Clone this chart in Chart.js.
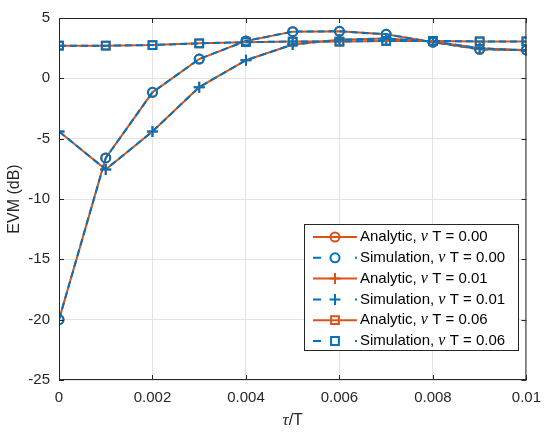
<!DOCTYPE html>
<html>
<head>
<meta charset="utf-8">
<script src="https://cdn.jsdelivr.net/npm/chart.js@4"></script>
<style>
  html, body { margin: 0; padding: 0; background: #fff; }
  #wrap { width: 550px; height: 436px; }
</style>
</head>
<body>
<div id="wrap"><canvas id="evmChart" width="550" height="436"></canvas></div>
<script>
// tau/T values
const tauT = [0, 0.001, 0.002, 0.003, 0.004, 0.005, 0.006, 0.007, 0.008, 0.009, 0.01];

// EVM (dB)
const analytic000 = [-20, -6.6, -1.16, 1.6, 3.1, 3.87, 3.9, 3.65, 3.0, 2.4, 2.35];
const simulation000 = [-20, -6.6, -1.16, 1.6, 3.1, 3.87, 3.9, 3.65, 3.0, 2.4, 2.35];
const analytic001 = [-4.4, -7.55, -4.4, -0.73, 1.5, 2.8, 3.2, 3.3, 3.05, 2.5, 2.3];
const simulation001 = [-4.4, -7.55, -4.4, -0.73, 1.5, 2.8, 3.2, 3.3, 3.05, 2.5, 2.3];
const analytic006 = [2.71, 2.71, 2.76, 2.9, 3.0, 3.05, 3.05, 3.1, 3.1, 3.06, 3.06];
const simulation006 = [2.71, 2.71, 2.76, 2.9, 3.0, 3.05, 3.05, 3.1, 3.1, 3.06, 3.06];

const xTicks = [0, 0.002, 0.004, 0.006, 0.008, 0.01];
const yTicks = [-25, -20, -15, -10, -5, 0, 5];
const nuTLabels = ['0.00', '0.00', '0.01', '0.01', '0.06', '0.06'];

const ORANGE = '#D95319';
const BLUE = '#0072BD';
const AXIS = '#262626';
const DASH = [7, 4];

function toPoints(ys) {
  return ys.map((y, i) => ({ x: tauT[i], y: y }));
}

function series(label, ys, color, dashed, style, radius) {
  return {
    label: label,
    data: toPoints(ys),
    borderColor: color,
    borderWidth: 2,
    borderDash: dashed ? DASH : [],
    pointStyle: style,
    pointRadius: radius,
    pointHoverRadius: radius,
    pointBorderColor: color,
    pointBackgroundColor: 'rgba(0,0,0,0)',
    pointBorderWidth: 2,
    showLine: true,
    fill: false,
    tension: 0
  };
}

const datasets = [
  series('Analytic, ν T = 0.00', analytic000, ORANGE, false, 'circle', 4.5),
  series('Simulation, ν T = 0.00', simulation000, BLUE, true, 'circle', 4.5),
  series('Analytic, ν T = 0.01', analytic001, ORANGE, false, 'cross', 5.5),
  series('Simulation, ν T = 0.01', simulation001, BLUE, true, 'cross', 5.5),
  series('Analytic, ν T = 0.06', analytic006, ORANGE, false, 'rect', 5.5),
  series('Simulation, ν T = 0.06', simulation006, BLUE, true, 'rect', 5.5)
];
// last dataset on top, like the original plot order
datasets.forEach((d, i) => { d.order = datasets.length - i; });

// box, inward ticks, x title and legend inside the axes
const matlabLook = {
  id: 'matlabLook',
  afterDraw(chart) {
    const ctx = chart.ctx;
    const a = chart.chartArea;
    const xs = chart.scales.x, ys = chart.scales.y;
    ctx.save();
    ctx.strokeStyle = AXIS;
    ctx.lineWidth = 1;
    ctx.beginPath();
    ctx.rect(a.left + 0.5, a.top + 0.5, a.right - a.left - 1, a.bottom - a.top - 1);
    ctx.stroke();
    const tl = 5;
    ctx.beginPath();
    xTicks.forEach(v => {
      const px = Math.round(xs.getPixelForValue(v)) + 0.5;
      ctx.moveTo(px, a.bottom); ctx.lineTo(px, a.bottom - tl);
      ctx.moveTo(px, a.top); ctx.lineTo(px, a.top + tl);
    });
    yTicks.forEach(v => {
      const py = Math.round(ys.getPixelForValue(v)) + 0.5;
      ctx.moveTo(a.left, py); ctx.lineTo(a.left + tl, py);
      ctx.moveTo(a.right, py); ctx.lineTo(a.right - tl, py);
    });
    ctx.stroke();

    // x axis title: tau/T
    ctx.fillStyle = AXIS;
    ctx.textBaseline = 'middle';
    const tauFont = 'italic 17px "Liberation Serif"';
    const restFont = '16px "Liberation Sans"';
    ctx.font = tauFont;
    const wTau = ctx.measureText('τ').width;
    ctx.font = restFont;
    const wRest = ctx.measureText('/T').width;
    const cx = (a.left + a.right) / 2;
    let tx = cx - (wTau + wRest) / 2;
    ctx.font = tauFont;
    ctx.fillText('τ', tx, 421);
    ctx.font = restFont;
    ctx.fillText('/T', tx + wTau, 421);

    // legend box
    const box = { left: 304, top: 224, right: 518, bottom: 350 };
    ctx.fillStyle = '#fff';
    ctx.fillRect(box.left, box.top, box.right - box.left, box.bottom - box.top);
    ctx.strokeStyle = AXIS;
    ctx.lineWidth = 1;
    ctx.strokeRect(box.left + 0.5, box.top + 0.5, box.right - box.left, box.bottom - box.top);

    const rowH = 20.8;
    datasets.forEach((d, i) => {
      const y = box.top + 13 + i * rowH;
      const x0 = 313, x1 = 357, mx = 335;
      ctx.strokeStyle = d.borderColor;
      ctx.fillStyle = 'rgba(0,0,0,0)';
      ctx.lineWidth = 2;
      ctx.beginPath();
      if (d.borderDash.length) {
        ctx.moveTo(x0, y); ctx.lineTo(x0 + 8, y);
        ctx.moveTo(x1 - 2, y); ctx.lineTo(x1, y);
      } else {
        ctx.moveTo(x0, y); ctx.lineTo(x1, y);
      }
      ctx.stroke();
      Chart.helpers.drawPoint(ctx, {
        pointStyle: d.pointStyle,
        radius: d.pointRadius,
        borderWidth: 2
      }, mx, y);

      // label text with italic nu
      ctx.fillStyle = '#000';
      ctx.textBaseline = 'middle';
      const head = i % 2 === 0 ? 'Analytic, ' : 'Simulation, ';
      let lx = 360;
      ctx.font = '15px "Liberation Sans"';
      ctx.fillText(head, lx, y);
      lx += ctx.measureText(head).width;
      ctx.font = 'italic 16px "Liberation Serif"';
      ctx.fillText('ν', lx, y);
      lx += ctx.measureText('ν').width;
      ctx.font = '15px "Liberation Sans"';
      ctx.fillText(' T = ' + nuTLabels[i], lx, y);
    });
    ctx.restore();
  }
};

new Chart(document.querySelector('#evmChart'), {
  type: 'scatter',
  data: { datasets: datasets },
  plugins: [matlabLook],
  options: {
    responsive: false,
    animation: false,
    devicePixelRatio: 1,
    layout: { padding: { left: 5, right: 19, top: 12, bottom: 0 } },
    plugins: {
      legend: { display: false },
      tooltip: { enabled: false }
    },
    scales: {
      x: {
        type: 'linear',
        min: 0,
        max: 0.01,
        afterFit(scale) { scale.height = 56; },
        afterBuildTicks(scale) { scale.ticks = xTicks.map(v => ({ value: v })); },
        grid: { color: '#e3e3e3', drawTicks: false },
        border: { display: false },
        ticks: {
          padding: 9,
          color: AXIS,
          font: { family: 'Liberation Sans', size: 15 },
          maxRotation: 0,
          callback: v => parseFloat(Number(v).toFixed(3)).toString()
        }
      },
      y: {
        min: -25,
        max: 5,
        afterFit(scale) { scale.width = 54; },
        afterBuildTicks(scale) { scale.ticks = yTicks.map(v => ({ value: v })); },
        grid: { color: '#e3e3e3', drawTicks: false },
        border: { display: false },
        title: {
          display: true,
          text: 'EVM (dB)',
          color: AXIS,
          font: { family: 'Liberation Sans', size: 16 },
          padding: { top: 0, bottom: 0 }
        },
        ticks: {
          padding: 9,
          color: AXIS,
          font: { family: 'Liberation Sans', size: 15 },
          callback: v => String(v)
        }
      }
    }
  }
});
</script>
</body>
</html>
